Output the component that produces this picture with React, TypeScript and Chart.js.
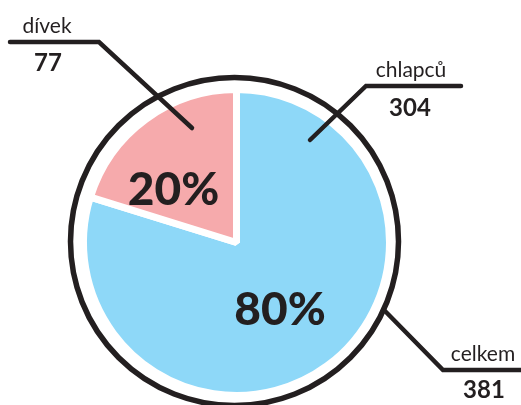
import { useEffect, useRef } from "react";
import { Chart, registerables } from "chart.js";

Chart.register(...registerables);

// ---- data ----
const categories = ["chlapců", "dívek"];
const values = [304, 77];
const totalLabel = "celkem";
const sliceColors = ["#8ed8f8", "#f6aaac"];
const INK = "#231f20";

export default function App() {
  const ref = useRef<HTMLCanvasElement>(null);

  useEffect(() => {
    if (!ref.current) return;
    const total = values.reduce((a, b) => a + b, 0);

    const decor = {
      id: "decor",
      afterDatasetsDraw(chart: any) {
        const meta = chart.getDatasetMeta(0);
        const arc = meta.data[0] as any;
        if (!arc) return;
        const cx = arc.x;
        const cy = arc.y;
        const R = arc.outerRadius;
        const ctx = chart.ctx as CanvasRenderingContext2D;
        ctx.save();

        // outer black ring
        ctx.beginPath();
        ctx.strokeStyle = INK;
        ctx.lineWidth = 5.5;
        ctx.arc(cx - 2, cy - 1, R + 11, 0, Math.PI * 2);
        ctx.stroke();

        // leader lines
        const poly = (pts: number[][]) => {
          ctx.beginPath();
          ctx.moveTo(cx + pts[0][0], cy + pts[0][1]);
          for (let i = 1; i < pts.length; i++) ctx.lineTo(cx + pts[i][0], cy + pts[i][1]);
          ctx.lineWidth = 4.5;
          ctx.lineCap = "round";
          ctx.lineJoin = "miter";
          ctx.strokeStyle = INK;
          ctx.stroke();
        };
        // dívek
        poly([[-226.5, -200.5], [-137.5, -200.5], [-44.5, -114.5]]);
        // chlapců
        poly([[224.5, -156.5], [129.5, -156.5], [73.5, -102.5]]);
        // celkem
        poly([[148.5, 68.5], [206.5, 127.5], [300, 127.5]]);

        ctx.fillStyle = INK;
        ctx.textAlign = "center";
        ctx.textBaseline = "alphabetic";
        const txt = (s: string, font: string, dx: number, dy: number) => {
          ctx.font = font;
          ctx.fillText(s, cx + dx, cy + dy);
        };
        const reg = "21px Lato";
        const bold = "bold 24px Lato";
        // dívek
        txt(categories[1], reg, -189.5, -209.5);
        txt(String(values[1]), bold, -188.5, -171.5);
        // chlapců
        txt(categories[0], reg, 174.5, -165.5);
        txt(String(values[0]), bold, 173.5, -126.5);
        // celkem
        txt(totalLabel, reg, 246.5, 118.5);
        txt(String(total), bold, 247.5, 155.5);

        // percentages
        const big = "900 46px Lato";
        txt(Math.round((values[0] / total) * 100) + "%", big, 43.5, 82.5);
        txt(Math.round((values[1] / total) * 100) + "%", big, -63, -37.5);

        ctx.restore();
      },
    };

    const chart = new Chart(ref.current, {
      type: "pie",
      data: {
        labels: categories,
        datasets: [
          {
            data: values,
            backgroundColor: sliceColors,
            borderColor: "#ffffff",
            borderWidth: 7,
            radius: 153,
          } as any,
        ],
      },
      options: {
        responsive: false,
        animation: false,
        events: [],
        layout: { padding: { left: 0, right: 48, top: 80, bottom: 0 } },
        plugins: {
          legend: { display: false },
          tooltip: { enabled: false },
        },
      },
      plugins: [decor],
    });
    return () => chart.destroy();
  }, []);

  return (
    <div style={{ position: "fixed", left: 0, top: 0, width: 521, height: 405, background: "#fff" }}>
      <canvas ref={ref} width={521} height={405} style={{ display: "block" }} />
    </div>
  );
}
